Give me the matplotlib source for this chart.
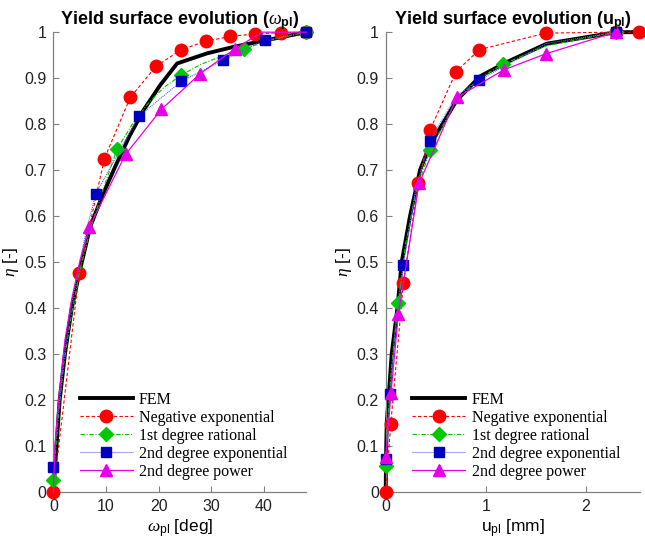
import matplotlib
matplotlib.use("Agg")
import matplotlib.pyplot as plt

# --- left panel: plastic rotation omega_pl [deg] ---
fem_w = [0, 0.3, 0.6, 1.2, 2.2, 3.5, 5.0, 7.0, 9.5, 12.0, 14.5, 17.1, 20.3, 23.5, 29.2, 34.2, 40.6, 48]
fem_w_eta = [0, 0.05, 0.1, 0.2, 0.3, 0.4, 0.48, 0.577, 0.65, 0.714, 0.775, 0.83, 0.885, 0.932, 0.954, 0.968, 0.983, 1.0]

negexp_w = [0, 4.9, 9.7, 14.6, 19.5, 24.3, 28.9, 33.6, 38.3, 43.2, 48]
negexp_w_eta = [0, 0.477, 0.725, 0.858, 0.926, 0.962, 0.98, 0.991, 0.996, 0.999, 1.0]

rat_w = [0, 0.5, 1, 2, 3.5, 5, 7, 9.5, 12.1, 15, 18, 21, 24.2, 28, 32, 36.2, 42, 48]
rat_w_eta = [0.025, 0.1, 0.17, 0.28, 0.39, 0.48, 0.57, 0.66, 0.746, 0.80, 0.845, 0.88, 0.906, 0.93, 0.948, 0.964, 0.985, 1.0]
rat_w_marks = [0, 8, 12, 15, 17]

exp2_w = [0, 0.5, 1, 2, 3.5, 5, 6.5, 8.1, 16.2, 24.3, 32.2, 40.2, 48]
exp2_w_eta = [0.055, 0.12, 0.18, 0.29, 0.41, 0.5, 0.58, 0.649, 0.817, 0.893, 0.939, 0.983, 1.0]
exp2_w_marks = [0, 7, 8, 9, 10, 11, 12]

pow_w = [0, 0.3, 1, 2.2, 3.5, 5, 6.85, 13.7, 20.5, 27.9, 34.5, 39.6, 48]
pow_w_eta = [0, 0.1, 0.2, 0.33, 0.42, 0.5, 0.577, 0.734, 0.832, 0.91, 0.964, 1.0, 1.0]
pow_w_marks = [6, 7, 8, 9, 10]

# --- right panel: plastic displacement u_pl [mm] ---
fem_u = [0, 0.003, 0.01, 0.027, 0.06, 0.117, 0.16, 0.243, 0.343, 0.443, 0.71, 0.943, 1.21, 1.61, 2.31, 2.53]
fem_u_eta = [0, 0.07, 0.15, 0.2, 0.3, 0.4, 0.5, 0.6, 0.7, 0.755, 0.852, 0.904, 0.935, 0.975, 1.0, 1.0]

negexp_u = [0, 0.05, 0.176, 0.326, 0.443, 0.703, 0.936, 1.6, 2.3, 2.53]
negexp_u_eta = [0, 0.147, 0.454, 0.671, 0.787, 0.914, 0.962, 0.998, 1.0, 1.0]

rat_u = [0.003, 0.02, 0.05, 0.08, 0.126, 0.2, 0.3, 0.443, 0.7, 0.94, 1.17, 1.6, 2.3]
rat_u_eta = [0.057, 0.15, 0.25, 0.32, 0.41, 0.54, 0.65, 0.743, 0.85, 0.9, 0.93, 0.97, 1.0]
rat_u_marks = [0, 4, 7, 10, 12]

exp2_u = [0, 0.043, 0.1, 0.176, 0.3, 0.443, 0.7, 0.933, 1.6, 2.3]
exp2_u_eta = [0.071, 0.214, 0.37, 0.493, 0.66, 0.764, 0.86, 0.896, 0.975, 1.0]
exp2_u_marks = [0, 1, 3, 5, 7, 9]

pow_u = [0, 0.053, 0.126, 0.333, 0.71, 1.18, 1.6, 2.3]
pow_u_eta = [0.075, 0.216, 0.386, 0.671, 0.858, 0.918, 0.953, 1.0]

labels = ["FEM", "Negative exponential", "1st degree rational",
          "2nd degree exponential", "2nd degree power"]

plt.rcParams["font.family"] = "Liberation Sans"
plt.rcParams["mathtext.fontset"] = "custom"
plt.rcParams["mathtext.rm"] = "Liberation Sans"
plt.rcParams["mathtext.bf"] = "Liberation Sans:bold"
plt.rcParams["mathtext.it"] = "Liberation Serif:italic"

RED = "#ff0000"
GREEN = "#00c800"
BLUE = "#0000c0"
MAG = "#e600e6"


def panel(ax, fem, fits, xlim, xticks, title, xlabel):
    ax.plot(fem[0], fem[1], color="black", lw=2.8, label=labels[0], zorder=2)
    styles = [
        dict(color=RED, ls=(0, (3, 2)), lw=0.8, marker="o", ms=9, mfc=RED, mec=RED),
        dict(color=GREEN, ls=(0, (4, 1.5, 1, 1.5)), lw=0.8, marker="D", ms=7.5, mfc=GREEN, mec=GREEN),
        dict(color="#6060ff", ls=(0, (1, 0.8)), lw=0.8, marker="s", ms=7.5, mfc=BLUE, mec=BLUE),
        dict(color=MAG, ls="-", lw=0.9, marker="^", ms=9, mfc=MAG, mec=MAG),
    ]
    for (x, y, marks), st, lab in zip(fits, styles, labels[1:]):
        ax.plot(x, y, markevery=marks, label=lab, zorder=3, **st)

    ax.set_xlim(*xlim)
    ax.set_ylim(0, 1)
    ax.set_xticks(xticks)
    ax.set_yticks([i / 10 for i in range(11)])
    ax.set_yticklabels(["0", "0.1", "0.2", "0.3", "0.4", "0.5", "0.6", "0.7", "0.8", "0.9", "1"])
    ax.spines["top"].set_visible(False)
    ax.spines["right"].set_visible(False)
    for s in ("left", "bottom"):
        ax.spines[s].set_color("#808080")
        ax.spines[s].set_linewidth(0.9)
    ax.tick_params(direction="in", length=4, color="#808080", labelsize=11.5,
                   labelcolor="#222222", pad=5)
    ax.set_title(title, fontsize=13, fontweight="bold", pad=5)
    ax.set_xlabel(xlabel, fontsize=12.5, labelpad=3)
    ax.set_ylabel(r"$\eta$ [-]", fontsize=12.5, labelpad=2)
    ax.legend(loc="lower left", bbox_to_anchor=(0.08, 0.012), frameon=False,
              prop={"family": "Liberation Serif", "size": 11.5},
              handlelength=3.3, handletextpad=0.4, labelspacing=0.13,
              borderaxespad=0)


fig = plt.figure(figsize=(6.45, 5.5), dpi=100)
ax1 = fig.add_axes([0.0827, 0.1055, 0.392, 0.836])
ax2 = fig.add_axes([0.598, 0.1055, 0.394, 0.836])

panel(ax1, (fem_w, fem_w_eta),
      [(negexp_w, negexp_w_eta, None),
       (rat_w, rat_w_eta, rat_w_marks),
       (exp2_w, exp2_w_eta, exp2_w_marks),
       (pow_w, pow_w_eta, pow_w_marks)],
      (0, 48), [0, 10, 20, 30, 40],
      r"Yield surface evolution ($\omega_{\mathbf{pl}}$)",
      r"$\omega_{\mathrm{pl}}$ [deg]")

panel(ax2, (fem_u, fem_u_eta),
      [(negexp_u, negexp_u_eta, None),
       (rat_u, rat_u_eta, rat_u_marks),
       (exp2_u, exp2_u_eta, exp2_u_marks),
       (pow_u, pow_u_eta, None)],
      (0, 2.54), [0, 1, 2],
      r"Yield surface evolution (u$_{\mathbf{pl}}$)",
      r"u$_{\mathrm{pl}}$ [mm]")

for ax in (ax1, ax2):
    for line in ax.lines:
        line.set_clip_on(False)

fig.savefig("out.png", dpi=100)
